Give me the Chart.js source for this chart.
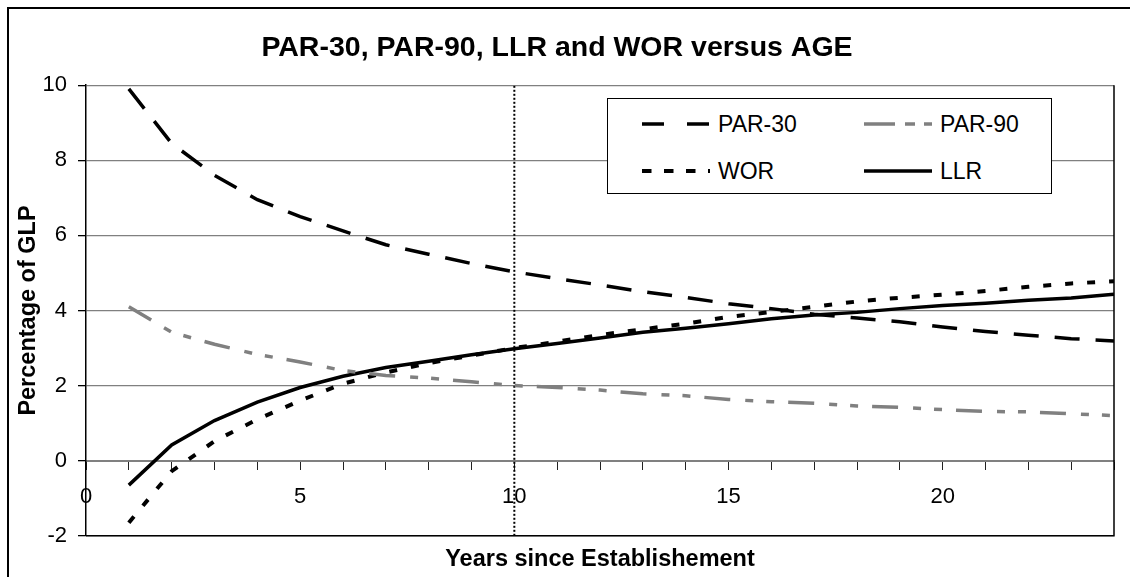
<!DOCTYPE html>
<html>
<head>
<meta charset="utf-8">
<title>PAR-30, PAR-90, LLR and WOR versus AGE</title>
<script src="https://cdn.jsdelivr.net/npm/chart.js@4.4.0/dist/chart.umd.min.js"></script>
<style>
    html, body { margin: 0; padding: 0; background: #fff; overflow: hidden; }
    #wrap { position: relative; width: 1130px; height: 577px; overflow: hidden; }
    #chart { position: absolute; left: 0; top: 0; }
    #frame { position: absolute; left: 7px; top: 7px; width: 1200px; height: 650px; border-left: 2px solid #000; border-top: 2px solid #000; box-sizing: border-box; pointer-events: none; }
    #legend { position: absolute; left: 607px; top: 98px; width: 445px; height: 96px; border: 1.5px solid #000; background: #fff; box-sizing: border-box;
              font-family: "Liberation Sans", Arial, sans-serif; font-size: 23px; color: #000; }
    #legend svg { position: absolute; }
    #legend span { position: absolute; line-height: 28px; white-space: nowrap; }
</style>
</head>
<body>
<div id="wrap">
    <canvas id="chart" width="1130" height="577"></canvas>
    <div id="frame"></div>
    <div id="legend"></div>
</div>
<script>
// values
const years = [1, 2, 3, 4, 5, 6, 7, 8, 9, 10, 11, 12, 13, 14, 15, 16, 17, 18, 19, 20, 21, 22, 23, 24];
const par30 = [9.9, 8.45, 7.6, 6.95, 6.5, 6.12, 5.75, 5.5, 5.25, 5.03, 4.85, 4.68, 4.5, 4.35, 4.18, 4.05, 3.9, 3.8, 3.7, 3.56, 3.44, 3.34, 3.25, 3.19];
const par90 = [4.1, 3.42, 3.1, 2.83, 2.63, 2.4, 2.27, 2.2, 2.1, 2.0, 1.95, 1.88, 1.78, 1.73, 1.63, 1.57, 1.53, 1.46, 1.42, 1.36, 1.31, 1.3, 1.25, 1.2];
const wor = [-1.65, -0.28, 0.52, 1.1, 1.6, 2.05, 2.35, 2.6, 2.8, 3.0, 3.17, 3.35, 3.5, 3.65, 3.83, 3.96, 4.1, 4.24, 4.34, 4.42, 4.52, 4.63, 4.72, 4.78];
const llr = [-0.65, 0.42, 1.07, 1.56, 1.95, 2.25, 2.48, 2.65, 2.82, 2.98, 3.12, 3.27, 3.42, 3.53, 3.65, 3.78, 3.88, 3.95, 4.05, 4.13, 4.19, 4.27, 4.33, 4.43];

// dotted marker at year 10
const markerX = [10, 10];
const markerY = [-2, 10];

const xTickLabels = [0, 5, 10, 15, 20];
const yTickLabels = [-2, 0, 2, 4, 6, 8, 10];

const FONT = '"Liberation Sans", Arial, sans-serif';

function toPoints(xs, ys) {
    return xs.map((x, i) => ({ x: x, y: ys[i] }));
}

// black frame on the right and bottom of the plot area
const plotFrame = {
    id: 'plotFrame',
    beforeDatasetsDraw(chart) {
        const { ctx, chartArea } = chart;
        ctx.save();
        ctx.strokeStyle = '#000';
        ctx.lineWidth = 1.5;
        ctx.beginPath();
        ctx.moveTo(chartArea.right, chartArea.top);
        ctx.lineTo(chartArea.right, chartArea.bottom);
        ctx.lineTo(chartArea.left, chartArea.bottom);
        ctx.stroke();
        ctx.restore();
    }
};

const series = [
    { label: 'PAR-30', data: par30, color: '#000', width: 3.5, dash: [25, 16] },
    { label: 'PAR-90', data: par90, color: '#808080', width: 3.5, dash: [26, 15, 8, 13, 8, 14] },
    { label: 'WOR', data: wor, color: '#000', width: 4, dash: [8, 14] },
    { label: 'LLR', data: llr, color: '#000', width: 3.5, dash: [] }
];

const datasets = series.map(s => ({
    label: s.label,
    data: toPoints(years, s.data),
    xAxisID: 'x',
    yAxisID: 'y',
    borderColor: s.color,
    borderWidth: s.width,
    borderDash: s.dash,
    borderCapStyle: 'butt',
    pointRadius: 0,
    tension: 0,
    fill: false
}));

datasets.push({
    label: 'year 10',
    data: toPoints(markerX, markerY),
    xAxisID: 'x',
    yAxisID: 'y',
    borderColor: '#000',
    borderWidth: 2,
    borderDash: [2, 2],
    borderCapStyle: 'butt',
    pointRadius: 0,
    fill: false,
    order: 10
});

const ctx = document.getElementById('chart').getContext('2d');
const chart = new Chart(ctx, {
    type: 'line',
    data: { datasets: datasets },
    options: {
        responsive: false,
        animation: false,
        layout: { padding: { left: 0, right: 16, top: 0, bottom: 0 } },
        plugins: {
            legend: { display: false },
            tooltip: { enabled: false },
            title: {
                display: true,
                text: 'PAR-30, PAR-90, LLR and WOR versus AGE',
                color: '#000',
                font: { family: FONT, size: 28.5, weight: 'bold' },
                padding: { top: 31, bottom: 20 }
            }
        },
        scales: {
            x: {
                type: 'linear',
                position: { y: 0 },
                min: 0,
                max: 24,
                ticks: {
                    stepSize: 1,
                    autoSkip: false,
                    maxRotation: 0,
                    padding: 15,
                    color: '#000',
                    font: { family: FONT, size: 22 },
                    callback: v => xTickLabels.includes(v) ? String(v) : ''
                },
                grid: { drawOnChartArea: false, drawTicks: true, tickLength: 8, tickColor: '#222', tickWidth: 1 },
                border: { color: '#808080', width: 2 }
            },
            x2: {
                type: 'linear',
                position: 'bottom',
                ticks: { display: false },
                grid: { display: false, drawTicks: false },
                border: { display: false },
                title: {
                    display: true,
                    text: 'Years since Establishement',
                    color: '#000',
                    font: { family: FONT, size: 23.5, weight: 'bold' },
                    padding: { top: 10, bottom: 3 }
                }
            },
            y: {
                min: yTickLabels[0],
                max: yTickLabels[yTickLabels.length - 1],
                ticks: {
                    stepSize: 2,
                    padding: 11,
                    color: '#000',
                    font: { family: FONT, size: 22 }
                },
                grid: { color: '#808080', lineWidth: 1.3, tickLength: 8, tickColor: '#000' },
                border: { color: '#000', width: 1.5 },
                title: {
                    display: true,
                    text: 'Percentage of GLP',
                    color: '#000',
                    font: { family: FONT, size: 23.5, weight: 'bold' },
                    padding: { top: 14, bottom: 0 }
                },
                afterFit: scale => { scale.width = 86; }
            }
        }
    },
    plugins: [plotFrame]
});

// legend box, 2 x 2 like the original
function buildLegend() {
    const box = document.getElementById('legend');
    const legendStyle = {
        'PAR-30': '22 23',
        'PAR-90': '31 10 10 9 10 20',
        'WOR': '9.5 12.5',
        'LLR': ''
    };
    series.forEach((s, i) => {
        const col = i % 2;
        const row = Math.floor(i / 2);
        const left = 34 + col * 222;
        const mid = 25 + row * 47;

        const svg = document.createElementNS('http://www.w3.org/2000/svg', 'svg');
        svg.setAttribute('width', '68');
        svg.setAttribute('height', '10');
        svg.style.left = left + 'px';
        svg.style.top = (mid - 5) + 'px';
        const line = document.createElementNS('http://www.w3.org/2000/svg', 'line');
        line.setAttribute('x1', '0');
        line.setAttribute('x2', '68');
        line.setAttribute('y1', '5');
        line.setAttribute('y2', '5');
        line.setAttribute('stroke', s.color);
        line.setAttribute('stroke-width', s.width);
        if (legendStyle[s.label]) line.setAttribute('stroke-dasharray', legendStyle[s.label]);
        svg.appendChild(line);
        box.appendChild(svg);

        const text = document.createElement('span');
        text.textContent = s.label;
        text.style.left = (left + 76) + 'px';
        text.style.top = (mid - 14) + 'px';
        box.appendChild(text);
    });
}
buildLegend();
</script>
</body>
</html>
